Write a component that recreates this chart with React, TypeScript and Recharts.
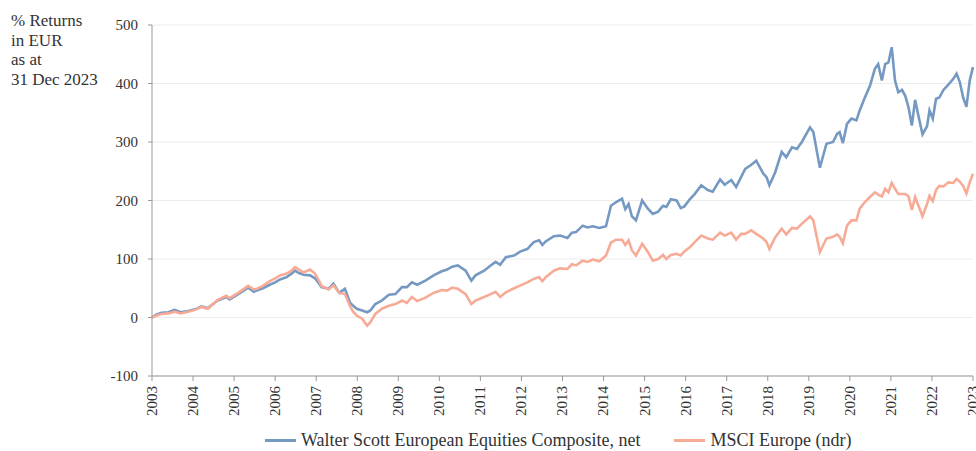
import React from 'react'
import { LineChart, Line, XAxis, YAxis, CartesianGrid, Legend } from 'recharts'

// month positions as fractional years
const dates = [
  2003.0, 2003.1, 2003.23, 2003.4, 2003.55, 2003.7, 2003.88, 2004.05, 2004.2, 2004.36,
  2004.6, 2004.81, 2004.89, 2005.1, 2005.34, 2005.48, 2005.55, 2005.7, 2005.87, 2006.0,
  2006.12, 2006.28, 2006.4, 2006.48, 2006.58, 2006.69, 2006.85, 2006.97, 2007.05, 2007.13,
  2007.3, 2007.42, 2007.56, 2007.7, 2007.82, 2007.9, 2007.99, 2008.12, 2008.24, 2008.32,
  2008.44, 2008.6, 2008.77, 2008.93, 2009.09, 2009.21, 2009.33, 2009.46, 2009.66, 2009.86,
  2010.06, 2010.19, 2010.31, 2010.45, 2010.64, 2010.78, 2010.88, 2011.09, 2011.25, 2011.37,
  2011.48, 2011.62, 2011.82, 2011.98, 2012.14, 2012.3, 2012.43, 2012.51, 2012.59, 2012.79,
  2012.94, 2013.12, 2013.23, 2013.33, 2013.49, 2013.61, 2013.74, 2013.9, 2014.06, 2014.18,
  2014.3, 2014.45, 2014.53, 2014.61, 2014.69, 2014.79, 2014.94, 2015.08, 2015.2, 2015.33,
  2015.45, 2015.53, 2015.64, 2015.78, 2015.88, 2015.97, 2016.1, 2016.22, 2016.38, 2016.54,
  2016.66, 2016.84, 2016.95, 2017.11, 2017.23, 2017.35, 2017.45, 2017.6, 2017.72, 2017.89,
  2017.97, 2018.04, 2018.18, 2018.34, 2018.45, 2018.59, 2018.71, 2018.83, 2019.03, 2019.11,
  2019.27, 2019.43, 2019.59, 2019.69, 2019.75, 2019.83, 2019.93, 2020.04, 2020.16, 2020.24,
  2020.36, 2020.49, 2020.61, 2020.69, 2020.78, 2020.86, 2020.94, 2021.02, 2021.1, 2021.18,
  2021.27, 2021.35, 2021.43, 2021.51, 2021.59, 2021.67, 2021.77, 2021.88, 2021.94, 2022.02,
  2022.1, 2022.18, 2022.28, 2022.4, 2022.52, 2022.6, 2022.68, 2022.76, 2022.84, 2022.92,
  2023.0,
]

const walterScott = [
  0, 5, 8, 9, 13, 9, 11, 14, 19, 16,
  29, 35, 31, 40, 51, 44, 46, 50, 56, 60,
  65, 69, 75, 80, 76, 73, 72, 67, 60, 52,
  49, 58, 42, 49, 26, 20, 15, 12, 9, 12,
  23, 29, 39, 40, 52, 52, 60, 56, 63, 72,
  79, 82, 87, 89, 80, 63, 72, 80, 89, 95,
  90, 103, 106, 113, 117, 129, 132, 124, 130, 139,
  140, 136, 145, 146, 157, 154, 156, 153, 156, 191,
  197, 203, 185, 194, 173, 166, 200, 186, 177, 181,
  191, 189, 202, 200, 187, 190, 202, 211, 226, 218,
  215, 236, 227, 235, 223, 240, 254, 261, 268, 246,
  240, 226, 248, 283, 274, 291, 288, 300, 325, 317,
  256, 297, 300, 314, 317, 298, 331, 340, 337, 354,
  375, 396, 425, 433, 405, 433, 436, 462, 405, 385,
  389, 379, 359, 328, 372, 345, 313, 327, 354, 340,
  374, 376, 389, 398, 408, 417, 402, 376, 360, 405,
  428,
]

const msciEurope = [
  0, 3, 6, 7, 10, 7, 10, 13, 18, 15,
  30, 37, 33, 42, 54, 48, 49, 54, 62, 67,
  72, 75, 80, 86, 82, 77, 82, 75, 65, 54,
  48, 55, 42, 40, 20, 10, 3, -2, -14, -8,
  6, 15, 20, 23, 29, 25, 35, 28, 34, 42,
  47, 46, 51, 49, 40, 23, 29, 35, 40, 44,
  35, 43, 50, 55, 60, 66, 69, 62, 69, 80,
  84, 83, 91, 89, 97, 95, 99, 96, 106, 128,
  133, 133, 124, 132, 115, 106, 126, 112, 97, 100,
  107, 100, 107, 109, 106, 113, 120, 129, 140, 135,
  133, 145, 140, 145, 133, 143, 143, 149, 143, 135,
  129, 117, 137, 152, 142, 153, 152, 160, 173, 166,
  112, 135, 138, 142, 138, 127, 157, 166, 166, 186,
  197, 206, 214, 210, 207, 220, 214, 230, 220, 211,
  211, 211, 207, 184, 206, 191, 173, 194, 208, 199,
  218, 225, 224, 231, 230, 237, 232, 225, 212, 231,
  246,
]

const yearTicks = [
  2003, 2004, 2005, 2006, 2007, 2008, 2009, 2010, 2011, 2012,
  2013, 2014, 2015, 2016, 2017, 2018, 2019, 2020, 2021, 2022, 2023,
]
const valueTicks = [-100, 0, 100, 200, 300, 400, 500]

const seriesNames = ['Walter Scott European Equities Composite, net', 'MSCI Europe (ndr)']
const BLUE = '#7599c2'
const PINK = '#f7ab96'
const FONT = '"Liberation Serif", "DejaVu Serif", serif'

const data = dates.map((t, i) => ({ t, ws: walterScott[i], msci: msciEurope[i] }))

function YearTick({ x, y, payload }: any) {
  return (
    <text x={x} y={y + 3} transform={`rotate(-90 ${x} ${y + 3})`} textAnchor="end" dy="0.33em"
      fill="#333" fontSize={15} fontFamily={FONT}>
      {payload.value}
    </text>
  )
}

function ChartLegend() {
  const items = [{ name: seriesNames[0], color: BLUE }, { name: seriesNames[1], color: PINK }]
  return (
    <div style={{ display: 'flex', gap: 34, paddingLeft: 265, fontFamily: FONT, fontSize: 18, color: '#333' }}>
      {items.map(it => (
        <div key={it.name} style={{ display: 'flex', alignItems: 'center' }}>
          <span style={{ display: 'inline-block', width: 31, height: 3, background: it.color, marginRight: 5 }} />
          {it.name}
        </div>
      ))}
    </div>
  )
}

export default function App() {
  return (
    <div style={{ position: 'relative', width: 976, height: 451 }}>
      <style>{'body{margin:0;overflow:hidden}'}</style>
      <div style={{ position: 'absolute', left: 11, top: 11, fontFamily: FONT, fontSize: 17, lineHeight: '19.6px', color: '#333' }}>
        % Returns<br />in EUR<br />as at<br />31 Dec 2023
      </div>
      <LineChart width={976} height={451} data={data} margin={{ top: 25, right: 3, left: 0, bottom: 0 }}>
        <CartesianGrid vertical={false} stroke="#ececec" />
        <XAxis dataKey="t" type="number" domain={[2003, 2023]} ticks={yearTicks} interval={0}
          height={54} tick={<YearTick />} axisLine={{ stroke: '#999' }} tickLine={{ stroke: '#999' }} tickSize={5} />
        <YAxis domain={[-100, 500]} ticks={valueTicks} interval={0} width={152}
          tick={{ fill: '#333', fontSize: 15, fontFamily: FONT }} axisLine={{ stroke: '#999' }}
          tickLine={{ stroke: '#999' }} tickSize={4} tickMargin={10} />
        <Legend verticalAlign="bottom" height={21} content={<ChartLegend />} />
        <Line dataKey="ws" name={seriesNames[0]} stroke={BLUE} strokeWidth={2.6} dot={false} type="linear" isAnimationActive={false} />
        <Line dataKey="msci" name={seriesNames[1]} stroke={PINK} strokeWidth={2.6} dot={false} type="linear" isAnimationActive={false} />
      </LineChart>
    </div>
  )
}
